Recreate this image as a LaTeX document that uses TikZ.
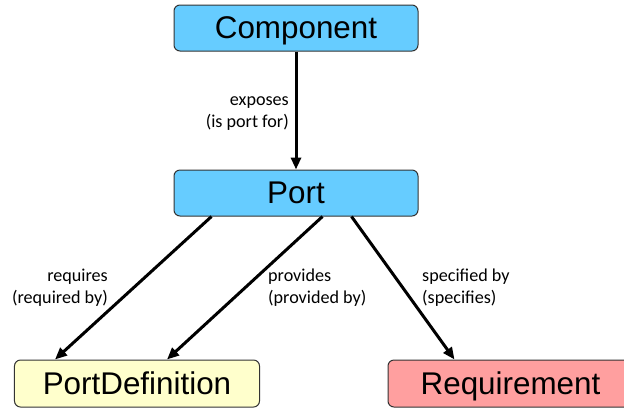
\documentclass[tikz,border=0pt]{standalone}
\usepackage{fontspec}
\setmainfont{Liberation Sans}
\newfontfamily\lblfont{Carlito}
\usetikzlibrary{calc,arrows.meta}
\definecolor{boxblue}{HTML}{66CCFF}
\definecolor{boxyellow}{HTML}{FFFFCC}
\definecolor{boxred}{HTML}{FF9F9F}
\definecolor{boxline}{HTML}{333333}
\tikzset{
  box/.style={draw=boxline, line width=1bp, rounded corners=6bp, minimum width=245bp, minimum height=46bp, inner sep=0pt, font=\fontsize{31.5}{36}\selectfont, text height=21bp, text depth=0pt},
  rel/.style={line width=3bp, -{Triangle[length=12bp,width=10bp]}},
  lbl/.style={font=\lblfont\fontsize{18.2}{22}\selectfont, inner sep=0pt},
}
\begin{document}
\begin{tikzpicture}[x=1bp,y=-1bp]
\useasboundingbox (0,0) rectangle (624,408);
\clip (0,0) rectangle (624,408);
\node[box, fill=boxblue, minimum width=244bp] (comp) at (296,28) {Component};
\node[box, fill=boxblue, minimum width=244bp] (port) at (296,193) {Port};
\node[box, fill=boxyellow, minimum height=47bp] (pdef) at (137,383.5) {PortDefinition};
\node[box, fill=boxred, minimum height=47bp] (req) at (510.5,383.5) {Requirement};
\draw[rel] (comp.south) -- (port.north);
\draw[rel] ($(port.south west)+(38,0)$) -- ($(pdef.north west)+(41,0)$);
\draw[rel] ($(port.south west)+(149,0)$) -- ($(pdef.north west)+(153,0)$);
\draw[rel] ($(port.south west)+(178,0)$) -- ($(req.north west)+(67,0)$);
\node[lbl, anchor=east, align=right] (l1) at (289,113.5) {exposes\\(is port for)};
\node[lbl, anchor=east, align=right] (l2) at (108,288) {requires\\(required by)};
\node[lbl, anchor=west, align=left] (l3) at (268,288) {provides\\(provided by)};
\node[lbl, anchor=west, align=left] (l4) at (422,288) {specified by\\(specifies)};
\end{tikzpicture}
\end{document}
